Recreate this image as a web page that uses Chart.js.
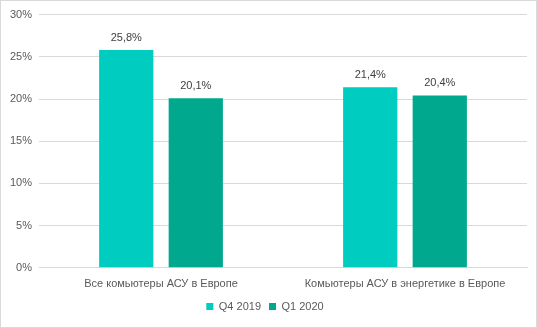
<!DOCTYPE html>
<html>
<head>
<meta charset="utf-8">
<script src="https://cdn.jsdelivr.net/npm/chart.js@4"></script>
<style>
  html, body { margin: 0; padding: 0; background: #fff; }
  #wrap { width: 535px; height: 326px; border: 1px solid #D9D9D9; }
</style>
</head>
<body>
<div id="wrap"><canvas id="myChart" width="535" height="326"></canvas></div>
<script>
const categories = ["Все комьютеры АСУ в Европе", "Комьютеры АСУ в энергетике в Европе"];
const q4_2019 = [25.8, 21.4];
const q1_2020 = [20.1, 20.4];
const seriesNames = ["Q4 2019", "Q1 2020"];

const fontFamily = "'Liberation Sans', Arial, sans-serif";

// labels over the bars, like "25,8%"
const barLabels = {
    id: 'barLabels',
    afterDatasetsDraw(chart) {
        const ctx = chart.ctx;
        ctx.save();
        ctx.font = "11px " + fontFamily;
        ctx.fillStyle = '#404040';
        ctx.textAlign = 'center';
        ctx.textBaseline = 'bottom';
        chart.data.datasets.forEach((ds, i) => {
            chart.getDatasetMeta(i).data.forEach((bar, j) => {
                const txt = ds.data[j].toFixed(1).replace('.', ',') + '%';
                ctx.fillText(txt, bar.x, bar.y - 7);
            });
        });
        ctx.restore();
    }
};

const chart = document.getElementById("myChart");
let barchart = new Chart(chart, {
    type: 'bar',
    data: {
        labels: categories,
        datasets: [{
            label: seriesNames[0],
            data: q4_2019,
            backgroundColor: '#00CCBF',
            categoryPercentage: 0.57,
            barPercentage: 0.78
        },
        {
            label: seriesNames[1],
            data: q1_2020,
            backgroundColor: '#00A88E',
            categoryPercentage: 0.57,
            barPercentage: 0.78
        }]
    },
    options: {
        responsive: false,
        animation: false,
        layout: { padding: { left: 2, top: 7, right: 9, bottom: 5 } },
        plugins: {
            legend: {
                position: 'bottom',
                labels: {
                    boxWidth: 7,
                    boxHeight: 7,
                    padding: 8,
                    color: '#595959',
                    font: { family: fontFamily, size: 11 }
                }
            },
            tooltip: { enabled: false }
        },
        scales: {
            x: {
                grid: { display: false },
                border: { color: '#D9D9D9' },
                ticks: { color: '#595959', font: { family: fontFamily, size: 11 }, padding: 2 }
            },
            y: {
                min: 0,
                max: 30,
                ticks: {
                    stepSize: 5,
                    color: '#595959',
                    font: { family: fontFamily, size: 11 },
                    padding: 7,
                    callback: v => v + '%'
                },
                grid: { color: '#D9D9D9', drawTicks: false },
                border: { display: false }
            }
        }
    },
    plugins: [barLabels]
});
</script>
</body>
</html>
